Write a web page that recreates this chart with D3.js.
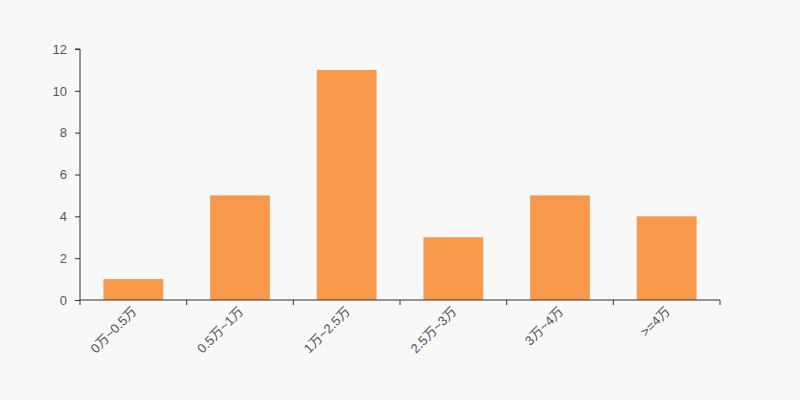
<!DOCTYPE html>
<html><head><meta charset="utf-8">
<script src="https://cdn.jsdelivr.net/npm/d3@7"></script>
<style>
body{margin:0;background:#f8f8f8;}
svg{display:block;font-family:"Liberation Sans",Arial,"Noto Sans CJK SC",sans-serif;}
</style></head><body>
<svg id="c" width="800" height="400"></svg>
<script>
const categories = ["0万~0.5万","0.5万~1万","1万~2.5万","2.5万~3万","3万~4万",">=4万"];
const values = [1,5,11,3,5,4];
const yTicks = [0,2,4,6,8,10,12];

const svg = d3.select("#c");
const m = {l:80, r:80, t:49, b:100};
const W = 800, H = 400;
svg.append("rect").attr("width",W).attr("height",H).attr("fill","#f8f8f8");
const x = d3.scaleBand().domain(categories).range([m.l, W-m.r]).paddingInner(0.44).paddingOuter(0.22);
const y = d3.scaleLinear().domain([0,12]).range([H-m.b, m.t]);

svg.append("g").selectAll("rect").data(values).join("rect")
  .attr("x",(d,i)=>x(categories[i]))
  .attr("width",x.bandwidth())
  .attr("y",d=>y(d))
  .attr("height",d=>y(0)-y(d))
  .attr("fill","#f7984a");

// x axis with ticks at band boundaries
const xg = svg.append("g").attr("transform",`translate(0,${H-m.b})`);
xg.append("line").attr("x1",m.l).attr("x2",W-m.r).attr("stroke","#333");
const step = (W-m.l-m.r)/categories.length;
const bounds = d3.range(categories.length+1).map(i=>m.l+i*step);
xg.selectAll("line.t").data(bounds).join("line").attr("class","t")
  .attr("x1",d=>d).attr("x2",d=>d).attr("y1",0).attr("y2",5).attr("stroke","#333");
xg.selectAll("text").data(categories).join("text")
  .attr("transform",d=>`translate(${x(d)+x.bandwidth()/2+1},${9}) rotate(-45)`)
  .attr("text-anchor","end").attr("dy","0.35em")
  .attr("font-size",13).attr("fill","#555").text(d=>d);

// y axis
const yAxis = d3.axisLeft(y).tickValues(yTicks).tickSize(5).tickPadding(8);
const yg = svg.append("g").attr("transform",`translate(${m.l},0)`).call(yAxis);
yg.select(".domain").attr("stroke","#333").attr("d",`M-5,${y(12)}H0V${y(0)}`);
yg.selectAll(".tick line").attr("stroke","#333");
yg.selectAll(".tick text").attr("font-size",13).attr("fill","#555").attr("font-family","Liberation Sans,Arial,sans-serif");
</script></body></html>
